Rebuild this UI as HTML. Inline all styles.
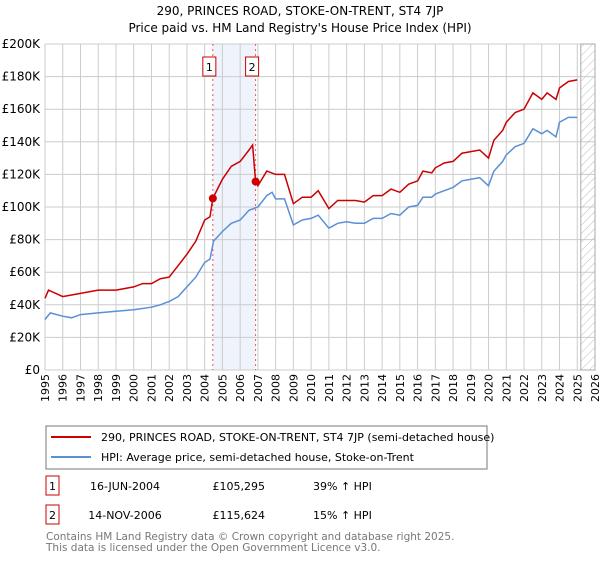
<!DOCTYPE html>
<html><head><meta charset="utf-8"><style>
body{margin:0;background:#fff;font-family:"Liberation Sans","DejaVu Sans",sans-serif;}
svg text{font-family:"DejaVu Sans","Liberation Sans",sans-serif;}
</style></head><body>
<svg id="c" width="600" height="560" xmlns="http://www.w3.org/2000/svg">
<defs><pattern id="hatch" width="6" height="6" patternUnits="userSpaceOnUse" patternTransform="rotate(45)"><line x1="0" y1="0" x2="0" y2="6" stroke="#bbb" stroke-width="1"/></pattern></defs>
<text x="300" y="15" text-anchor="middle" font-size="12">290, PRINCES ROAD, STOKE-ON-TRENT, ST4 7JP</text>
<text x="300" y="32" text-anchor="middle" font-size="12">Price paid vs. HM Land Registry's House Price Index (HPI)</text>
<g id="grid"></g><g id="series"></g><g id="axes"></g>
<rect x="46" y="426" width="441" height="43" fill="#fff" stroke="#777"/>
<line x1="51" y1="437" x2="91" y2="437" stroke="#cc0000" stroke-width="2"/>
<text x="101" y="441" font-size="11">290, PRINCES ROAD, STOKE-ON-TRENT, ST4 7JP (semi-detached house)</text>
<line x1="51" y1="457" x2="91" y2="457" stroke="#5b8fd6" stroke-width="2"/>
<text x="101" y="461" font-size="11">HPI: Average price, semi-detached house, Stoke-on-Trent</text>
<g font-size="11">
<rect x="46" y="476" width="13" height="19" fill="#fff" stroke="#cc0000"/><text x="52.5" y="490" text-anchor="middle">1</text>
<text x="125" y="490" text-anchor="middle">16-JUN-2004</text>
<text x="265" y="490" text-anchor="end">£105,295</text>
<text x="313" y="490">39% ↑ HPI</text>
<rect x="46" y="505" width="13" height="19" fill="#fff" stroke="#cc0000"/><text x="52.5" y="519" text-anchor="middle">2</text>
<text x="125" y="519" text-anchor="middle">14-NOV-2006</text>
<text x="265" y="519" text-anchor="end">£115,624</text>
<text x="313" y="519">15% ↑ HPI</text>
</g>
<text x="46" y="540" font-size="10.5" fill="#777">Contains HM Land Registry data © Crown copyright and database right 2025.</text>
<text x="46" y="551" font-size="10.5" fill="#777">This data is licensed under the Open Government Licence v3.0.</text>
</svg>
<script>
const years=[1995,1996,1997,1998,1999,2000,2001,2002,2003,2004,2005,2006,2007,2008,2009,2010,2011,2012,2013,2014,2015,2016,2017,2018,2019,2020,2021,2022,2023,2024,2025,2026];
const yTicks=[0,20,40,60,80,100,120,140,160,180,200];
const hpiT=[1995,1995.3,1996,1996.5,1997,1998,1999,2000,2001,2001.5,2002,2002.5,2003,2003.5,2004,2004.3,2004.5,2005,2005.5,2006,2006.5,2007,2007.5,2007.8,2008,2008.5,2009,2009.5,2010,2010.4,2011,2011.5,2012,2012.5,2013,2013.5,2014,2014.5,2015,2015.5,2016,2016.3,2016.8,2017,2017.5,2018,2018.5,2019,2019.5,2020,2020.3,2020.8,2021,2021.5,2022,2022.5,2023,2023.3,2023.8,2024,2024.5,2025];
const hpiV=[31,35,33,32,34,35,36,37,38.5,40,42,45,51,57,66,68,79,85,90,92,98,100,107,109,105,105,89,92,93,95,87,90,91,90,90,93,93,96,95,100,101,106,106,108,110,112,116,117,118,113,122,128,132,137,139,148,145,147,143,152,155,155];
const propT=[1995,1995.2,1996,1996.5,1997,1998,1999,2000,2000.5,2001,2001.5,2002,2002.5,2003,2003.5,2004,2004.3,2004.46,2005,2005.5,2006,2006.5,2006.7,2006.87,2007,2007.5,2008,2008.5,2009,2009.5,2010,2010.4,2011,2011.5,2012,2012.5,2013,2013.5,2014,2014.5,2015,2015.5,2016,2016.3,2016.8,2017,2017.5,2018,2018.5,2019,2019.5,2020,2020.3,2020.8,2021,2021.5,2022,2022.5,2023,2023.3,2023.8,2024,2024.5,2025];
const propV=[44,49,45,46,47,49,49,51,53,53,56,57,64,71,79,92,94,105.3,117,125,128,135,138,115.6,113,122,120,120,102,106,106,110,99,104,104,104,103,107,107,111,109,114,116,122,121,124,127,128,133,134,135,130,141,147,152,158,160,170,166,170,166,173,177,178];
const saleT=[2004.46,2006.87];
const saleV=[105.295,115.624];
const saleLabels=["1","2"];
const X=t=>45+(t-1995)*(550/31);
const Y=v=>370-v*(326/200);
const NS="http://www.w3.org/2000/svg";
function mk(tag,attrs,parent){const e=document.createElementNS(NS,tag);for(const k in attrs)e.setAttribute(k,attrs[k]);parent.appendChild(e);return e;}
const grid=document.getElementById('grid'),ser=document.getElementById('series'),ax=document.getElementById('axes');
// shaded ownership band
let band=mk('rect',{x:X(saleT[0]),y:Y(200),width:X(saleT[1])-X(saleT[0]),height:Y(0)-Y(200),fill:'#eef3fc'},grid);


years.forEach(y=>{let l=mk('line',{x1:X(y),x2:X(y),y1:Y(200),y2:Y(0),stroke:'#ccc'},grid);


let t=mk('text',{x:0,y:0,'font-size':11,'text-anchor':'end',transform:`translate(${X(y)+4},374) rotate(-90)`},ax);t.textContent=y;

});
yTicks.forEach(v=>{let l=mk('line',{x1:45,x2:595,y1:Y(v),y2:Y(v),stroke:'#ccc'},grid);


let t=mk('text',{x:40,y:Y(v)+4,'font-size':12,'text-anchor':'end'},ax);t.textContent=v===0?'£0':'£'+v+'K';

});
let h=mk('rect',{x:X(2025.2),y:Y(200),width:595-X(2025.2),height:Y(0)-Y(200),fill:'url(#hatch)',stroke:'#aaa'},grid);


saleT.forEach((t,i)=>{let l=mk('line',{x1:X(t),x2:X(t),y1:Y(200),y2:Y(0),stroke:'#e55','stroke-dasharray':'2,3'},grid);


let r=mk('rect',{x:X(t)-10,y:57,width:13,height:19,fill:'#fff',stroke:'#cc0000'},ax);


let tx=mk('text',{x:X(t)-3.5,y:71,'font-size':11,'text-anchor':'middle'},ax);tx.textContent=saleLabels[i];

});
const pts=(T,V)=>T.map((t,i)=>X(t).toFixed(1)+','+Y(V[i]).toFixed(1)).join(' ');
let hp=mk('polyline',{points:pts(hpiT,hpiV),fill:'none',stroke:'#5b8fd6','stroke-width':1.5},ser);


let pp=mk('polyline',{points:pts(propT,propV),fill:'none',stroke:'#cc0000','stroke-width':1.5},ser);


saleT.forEach((t,i)=>{let c=mk('circle',{cx:X(t),cy:Y(saleV[i]),r:4,fill:'#cc0000'},ser);

});
</script>
</body></html>
